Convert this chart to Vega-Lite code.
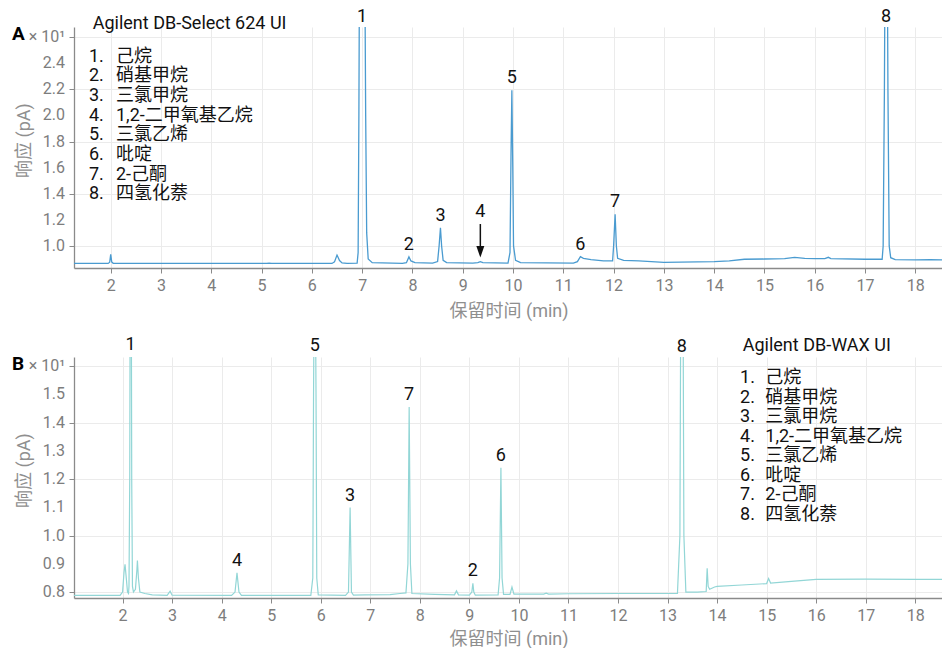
{
  "$schema": "https://vega.github.io/schema/vega-lite/v6.json",
  "padding": {"left": 12, "top": 8, "right": 0, "bottom": 0},
  "config": {
    "font": "Roboto, Noto Sans CJK SC, sans-serif",
    "view": {"stroke": null},
    "axis": {
      "domainColor": "#8a8a8a",
      "domainWidth": 1.3,
      "tickColor": "#8a8a8a",
      "tickSize": 5,
      "tickWidth": 1,
      "labelFontSize": 16,
      "labelColor": "#7d7d7d",
      "labelPadding": 4,
      "titleFontSize": 18,
      "titleFontWeight": "normal",
      "titleColor": "#8f8f8f",
      "gridColor": "#ebebeb",
      "gridWidth": 1
    },
    "text": {"font": "Roboto, Noto Sans CJK SC, sans-serif"}
  },
  "datasets": {
    "one": [{}],
    "ticksA": [
      {"v": 1.0, "lab": "1.0"}, {"v": 1.2, "lab": "1.2"}, {"v": 1.4, "lab": "1.4"}, {"v": 1.6, "lab": "1.6"},
      {"v": 1.8, "lab": "1.8"}, {"v": 2.0, "lab": "2.0"}, {"v": 2.2, "lab": "2.2"}, {"v": 2.4, "lab": "2.4"},
      {"v": 2.6, "lab": "× 10¹"}
    ],
    "ticksB": [
      {"v": 0.8, "lab": "0.8"}, {"v": 0.9, "lab": "0.9"}, {"v": 1.0, "lab": "1.0"}, {"v": 1.1, "lab": "1.1"},
      {"v": 1.2, "lab": "1.2"}, {"v": 1.3, "lab": "1.3"}, {"v": 1.4, "lab": "1.4"}, {"v": 1.5, "lab": "1.5"},
      {"v": 1.6, "lab": "× 10¹"}
    ],
    "traceA": [
      {"t": 1.27, "v": 0.866}, {"t": 1.95, "v": 0.866}, {"t": 1.98, "v": 0.875}, {"t": 2.0, "v": 0.936},
      {"t": 2.02, "v": 0.878}, {"t": 2.05, "v": 0.867}, {"t": 2.1, "v": 0.866}, {"t": 5.1, "v": 0.866},
      {"t": 5.15, "v": 0.868}, {"t": 5.2, "v": 0.866}, {"t": 6.4, "v": 0.866}, {"t": 6.45, "v": 0.878},
      {"t": 6.5, "v": 0.93}, {"t": 6.55, "v": 0.888}, {"t": 6.6, "v": 0.87}, {"t": 6.7, "v": 0.867},
      {"t": 6.9, "v": 0.868}, {"t": 6.92, "v": 0.95}, {"t": 6.935, "v": 2.0}, {"t": 6.945, "v": 3.0},
      {"t": 7.0, "v": 4.5}, {"t": 7.055, "v": 3.0}, {"t": 7.07, "v": 2.0}, {"t": 7.09, "v": 1.1},
      {"t": 7.12, "v": 0.9}, {"t": 7.2, "v": 0.872}, {"t": 7.8, "v": 0.866}, {"t": 7.88, "v": 0.872},
      {"t": 7.93, "v": 0.916}, {"t": 7.97, "v": 0.885}, {"t": 8.05, "v": 0.872}, {"t": 8.4, "v": 0.868},
      {"t": 8.5, "v": 0.88}, {"t": 8.53, "v": 1.0}, {"t": 8.557, "v": 1.14}, {"t": 8.58, "v": 1.0},
      {"t": 8.61, "v": 0.89}, {"t": 8.68, "v": 0.872}, {"t": 9.2, "v": 0.868}, {"t": 9.3, "v": 0.872},
      {"t": 9.35, "v": 0.88}, {"t": 9.4, "v": 0.872}, {"t": 9.9, "v": 0.868}, {"t": 9.94, "v": 0.95},
      {"t": 9.96, "v": 1.7}, {"t": 9.977, "v": 2.193}, {"t": 9.995, "v": 1.6}, {"t": 10.01, "v": 1.0},
      {"t": 10.05, "v": 0.89}, {"t": 10.15, "v": 0.872}, {"t": 11.2, "v": 0.868}, {"t": 11.28, "v": 0.88},
      {"t": 11.34, "v": 0.918}, {"t": 11.4, "v": 0.905}, {"t": 11.55, "v": 0.895}, {"t": 11.8, "v": 0.885},
      {"t": 11.98, "v": 0.885}, {"t": 12.0, "v": 1.0}, {"t": 12.03, "v": 1.243}, {"t": 12.055, "v": 1.0},
      {"t": 12.08, "v": 0.905}, {"t": 12.2, "v": 0.89}, {"t": 12.5, "v": 0.885}, {"t": 13.0, "v": 0.874},
      {"t": 14.0, "v": 0.88}, {"t": 14.3, "v": 0.885}, {"t": 14.6, "v": 0.898}, {"t": 15.0, "v": 0.9},
      {"t": 15.4, "v": 0.903}, {"t": 15.6, "v": 0.913}, {"t": 15.8, "v": 0.905}, {"t": 16.0, "v": 0.903},
      {"t": 16.2, "v": 0.903}, {"t": 16.27, "v": 0.913}, {"t": 16.32, "v": 0.903}, {"t": 17.0, "v": 0.898},
      {"t": 17.34, "v": 0.898}, {"t": 17.36, "v": 1.0}, {"t": 17.385, "v": 2.2}, {"t": 17.395, "v": 3.0},
      {"t": 17.42, "v": 4.0}, {"t": 17.445, "v": 3.0}, {"t": 17.455, "v": 2.2}, {"t": 17.48, "v": 1.0},
      {"t": 17.51, "v": 0.91}, {"t": 17.6, "v": 0.895}, {"t": 18.0, "v": 0.893}, {"t": 18.3, "v": 0.895},
      {"t": 18.55, "v": 0.893}
    ],
    "traceB": [
      {"t": 1.02, "v": 0.788}, {"t": 1.95, "v": 0.788}, {"t": 2.0, "v": 0.8}, {"t": 2.03, "v": 0.87},
      {"t": 2.05, "v": 0.898}, {"t": 2.07, "v": 0.86}, {"t": 2.1, "v": 0.8}, {"t": 2.12, "v": 0.795},
      {"t": 2.13, "v": 0.82}, {"t": 2.145, "v": 1.2}, {"t": 2.155, "v": 2.0}, {"t": 2.165, "v": 3.0},
      {"t": 2.175, "v": 2.0}, {"t": 2.185, "v": 1.2}, {"t": 2.2, "v": 0.82}, {"t": 2.22, "v": 0.8},
      {"t": 2.26, "v": 0.81}, {"t": 2.29, "v": 0.88}, {"t": 2.3, "v": 0.912}, {"t": 2.32, "v": 0.85},
      {"t": 2.35, "v": 0.8}, {"t": 2.45, "v": 0.795}, {"t": 2.6, "v": 0.79}, {"t": 2.9, "v": 0.788},
      {"t": 2.96, "v": 0.803}, {"t": 3.0, "v": 0.789}, {"t": 4.2, "v": 0.788}, {"t": 4.27, "v": 0.8},
      {"t": 4.31, "v": 0.868}, {"t": 4.35, "v": 0.8}, {"t": 4.4, "v": 0.788}, {"t": 5.8, "v": 0.788},
      {"t": 5.84, "v": 0.85}, {"t": 5.855, "v": 1.5}, {"t": 5.88, "v": 2.2}, {"t": 5.905, "v": 1.5},
      {"t": 5.92, "v": 0.85}, {"t": 5.95, "v": 0.79}, {"t": 6.5, "v": 0.788}, {"t": 6.56, "v": 0.8},
      {"t": 6.593, "v": 1.099}, {"t": 6.62, "v": 0.8}, {"t": 6.66, "v": 0.789}, {"t": 6.9, "v": 0.79},
      {"t": 7.4, "v": 0.791}, {"t": 7.6, "v": 0.795}, {"t": 7.72, "v": 0.797}, {"t": 7.76, "v": 0.9},
      {"t": 7.785, "v": 1.455}, {"t": 7.81, "v": 0.9}, {"t": 7.84, "v": 0.795}, {"t": 8.3, "v": 0.792},
      {"t": 8.7, "v": 0.79}, {"t": 8.74, "v": 0.804}, {"t": 8.78, "v": 0.79}, {"t": 9.0, "v": 0.789},
      {"t": 9.05, "v": 0.8}, {"t": 9.071, "v": 0.831}, {"t": 9.09, "v": 0.8}, {"t": 9.12, "v": 0.789},
      {"t": 9.58, "v": 0.79}, {"t": 9.61, "v": 0.85}, {"t": 9.637, "v": 1.24}, {"t": 9.66, "v": 0.85},
      {"t": 9.69, "v": 0.792}, {"t": 9.82, "v": 0.792}, {"t": 9.86, "v": 0.818}, {"t": 9.9, "v": 0.793},
      {"t": 10.5, "v": 0.793}, {"t": 10.55, "v": 0.796}, {"t": 10.6, "v": 0.793}, {"t": 11.0, "v": 0.794},
      {"t": 12.0, "v": 0.795}, {"t": 13.2, "v": 0.795}, {"t": 13.25, "v": 1.0}, {"t": 13.27, "v": 2.0},
      {"t": 13.29, "v": 2.5}, {"t": 13.31, "v": 2.0}, {"t": 13.33, "v": 1.0}, {"t": 13.37, "v": 0.8},
      {"t": 13.6, "v": 0.8}, {"t": 13.78, "v": 0.802}, {"t": 13.8, "v": 0.884}, {"t": 13.82, "v": 0.82},
      {"t": 13.85, "v": 0.81}, {"t": 13.95, "v": 0.818}, {"t": 14.0, "v": 0.82}, {"t": 14.5, "v": 0.825},
      {"t": 15.0, "v": 0.83}, {"t": 15.04, "v": 0.848}, {"t": 15.08, "v": 0.832}, {"t": 15.5, "v": 0.838},
      {"t": 16.0, "v": 0.845}, {"t": 17.0, "v": 0.846}, {"t": 18.0, "v": 0.845}, {"t": 18.56, "v": 0.845}
    ],
    "peaksA": [
      {"t": 7.0, "v": 2.66, "lab": "1"}, {"t": 7.93, "v": 0.916, "lab": "2"},
      {"t": 8.557, "v": 1.14, "lab": "3"}, {"t": 9.35, "v": 1.168, "lab": "4"},
      {"t": 9.977, "v": 2.193, "lab": "5"}, {"t": 11.34, "v": 0.918, "lab": "6"},
      {"t": 12.03, "v": 1.243, "lab": "7"}, {"t": 17.42, "v": 2.66, "lab": "8"}
    ],
    "peaksB": [
      {"t": 2.16, "v": 1.632, "lab": "1"}, {"t": 9.071, "v": 0.831, "lab": "2"},
      {"t": 6.593, "v": 1.099, "lab": "3"}, {"t": 4.31, "v": 0.868, "lab": "4"},
      {"t": 5.88, "v": 1.628, "lab": "5"}, {"t": 9.637, "v": 1.24, "lab": "6"},
      {"t": 7.785, "v": 1.455, "lab": "7"}, {"t": 13.29, "v": 1.625, "lab": "8"}
    ]
  },
  "vconcat": [
    {
      "width": 869,
      "height": 241,
      "layer": [
        {
          "data": {"name": "traceA"},
          "mark": {"type": "line", "clip": true, "color": "#4a9bd0", "strokeWidth": 1.3},
          "encoding": {
            "x": {
              "field": "t", "type": "quantitative",
              "scale": {"domain": [1.27, 18.55], "nice": false, "zero": false},
              "axis": {"values": [2, 3, 4, 5, 6, 7, 8, 9, 10, 11, 12, 13, 14, 15, 16, 17, 18], "title": "保留时间 (min)", "titleY": 43, "titleBaseline": "middle"}
            },
            "y": {
              "field": "v", "type": "quantitative",
              "scale": {"domain": [0.831, 2.678], "nice": false, "zero": false},
              "axis": {
                "values": [1, 1.2, 1.4, 1.6, 1.8, 2, 2.2, 2.4, 2.6],
                "labels": false,
                "title": "响应 (pA)", "titleX": -41, "titleY": 113, "titleAngle": 270,
                "titleBaseline": "bottom", "titleAlign": "center"
              }
            }
          }
        },
        {
          "data": {"name": "ticksA"},
          "mark": {"type": "text", "fontSize": 16, "align": "right", "baseline": "middle", "dx": -9, "color": "#7d7d7d"},
          "encoding": {
            "x": {"datum": 1.27},
            "y": {"field": "v", "type": "quantitative"},
            "text": {"field": "lab"}
          }
        },
        {
          "data": {"name": "peaksA"},
          "mark": {"type": "text", "fontSize": 18, "baseline": "middle", "dy": -12, "color": "#111111"},
          "encoding": {
            "x": {"field": "t", "type": "quantitative"},
            "y": {"field": "v", "type": "quantitative"},
            "text": {"field": "lab"}
          }
        },
        {
          "data": {"name": "one"},
          "mark": {"type": "rule", "color": "#111111", "strokeWidth": 1.5},
          "encoding": {"x": {"datum": 9.35}, "y": {"datum": 1.168}, "y2": {"datum": 0.955}}
        },
        {
          "data": {"name": "one"},
          "mark": {"type": "point", "shape": "M-1,-1.45L1,-1.45L0,1.45Z", "size": 64, "filled": true, "color": "#111111", "opacity": 1, "strokeWidth": 0},
          "encoding": {"x": {"datum": 9.35}, "y": {"datum": 0.955}}
        },
        {
          "data": {"name": "one"},
          "mark": {"type": "text", "fontSize": 18, "align": "left", "baseline": "alphabetic", "lineHeight": 19.67, "color": "#111111",
                   "text": ["1.", "2.", "3.", "4.", "5.", "6.", "7.", "8."]},
          "encoding": {"x": {"datum": 1.568}, "y": {"datum": 2.412}}
        },
        {
          "data": {"name": "one"},
          "mark": {"type": "text", "fontSize": 18, "align": "left", "baseline": "alphabetic", "lineHeight": 19.67, "color": "#111111",
                   "text": ["己烷", "硝基甲烷", "三氯甲烷", "1,2-二甲氧基乙烷", "三氯乙烯", "吡啶", "2-己酮", "四氢化萘"]},
          "encoding": {"x": {"datum": 2.105}, "y": {"datum": 2.412}}
        },
        {
          "data": {"name": "one"},
          "mark": {"type": "text", "fontSize": 18, "align": "left", "baseline": "alphabetic", "color": "#111111", "text": "Agilent DB-Select 624 UI"},
          "encoding": {"x": {"datum": 1.642}, "y": {"datum": 2.66}}
        },
        {
          "data": {"name": "one"},
          "mark": {"type": "text", "fontSize": 19, "fontWeight": "bold", "align": "left", "baseline": "middle", "dx": -62, "dy": -3, "color": "#000000", "text": "A"},
          "encoding": {"x": {"datum": 1.27}, "y": {"datum": 2.6}}
        }
      ]
    },
    {
      "width": 869,
      "height": 241,
      "layer": [
        {
          "data": {"name": "traceB"},
          "mark": {"type": "line", "clip": true, "color": "#92d6d6", "strokeWidth": 1.2},
          "encoding": {
            "x": {
              "field": "t", "type": "quantitative",
              "scale": {"domain": [1.02, 18.56], "nice": false, "zero": false},
              "axis": {"values": [2, 3, 4, 5, 6, 7, 8, 9, 10, 11, 12, 13, 14, 15, 16, 17, 18], "title": "保留时间 (min)", "titleY": 41, "titleBaseline": "middle"}
            },
            "y": {
              "field": "v", "type": "quantitative",
              "scale": {"domain": [0.779, 1.632], "nice": false, "zero": false},
              "axis": {
                "values": [0.8, 0.9, 1.0, 1.1, 1.2, 1.3, 1.4, 1.5, 1.6],
                "labels": false,
                "title": "响应 (pA)", "titleX": -41, "titleY": 113, "titleAngle": 270,
                "titleBaseline": "bottom", "titleAlign": "center"
              }
            }
          }
        },
        {
          "data": {"name": "ticksB"},
          "mark": {"type": "text", "fontSize": 16, "align": "right", "baseline": "middle", "dx": -9, "color": "#7d7d7d"},
          "encoding": {
            "x": {"datum": 1.02},
            "y": {"field": "v", "type": "quantitative"},
            "text": {"field": "lab"}
          }
        },
        {
          "data": {"name": "peaksB"},
          "mark": {"type": "text", "fontSize": 18, "baseline": "middle", "dy": -12, "color": "#111111"},
          "encoding": {
            "x": {"field": "t", "type": "quantitative"},
            "y": {"field": "v", "type": "quantitative"},
            "text": {"field": "lab"}
          }
        },
        {
          "data": {"name": "one"},
          "mark": {"type": "text", "fontSize": 18, "align": "left", "baseline": "alphabetic", "lineHeight": 19.5, "color": "#111111",
                   "text": ["1.", "2.", "3.", "4.", "5.", "6.", "7.", "8."]},
          "encoding": {"x": {"datum": 14.463}, "y": {"datum": 1.539}}
        },
        {
          "data": {"name": "one"},
          "mark": {"type": "text", "fontSize": 18, "align": "left", "baseline": "alphabetic", "lineHeight": 19.5, "color": "#111111",
                   "text": ["己烷", "硝基甲烷", "三氯甲烷", "1,2-二甲氧基乙烷", "三氯乙烯", "吡啶", "2-己酮", "四氢化萘"]},
          "encoding": {"x": {"datum": 14.974}, "y": {"datum": 1.539}}
        },
        {
          "data": {"name": "one"},
          "mark": {"type": "text", "fontSize": 18, "align": "left", "baseline": "alphabetic", "color": "#111111", "text": "Agilent DB-WAX UI"},
          "encoding": {"x": {"datum": 14.517}, "y": {"datum": 1.654}}
        },
        {
          "data": {"name": "one"},
          "mark": {"type": "text", "fontSize": 19, "fontWeight": "bold", "align": "left", "baseline": "middle", "dx": -62, "dy": -2, "color": "#000000", "text": "B"},
          "encoding": {"x": {"datum": 1.02}, "y": {"datum": 1.6}}
        }
      ]
    }
  ],
  "spacing": 89,
  "bounds": "flush"
}
